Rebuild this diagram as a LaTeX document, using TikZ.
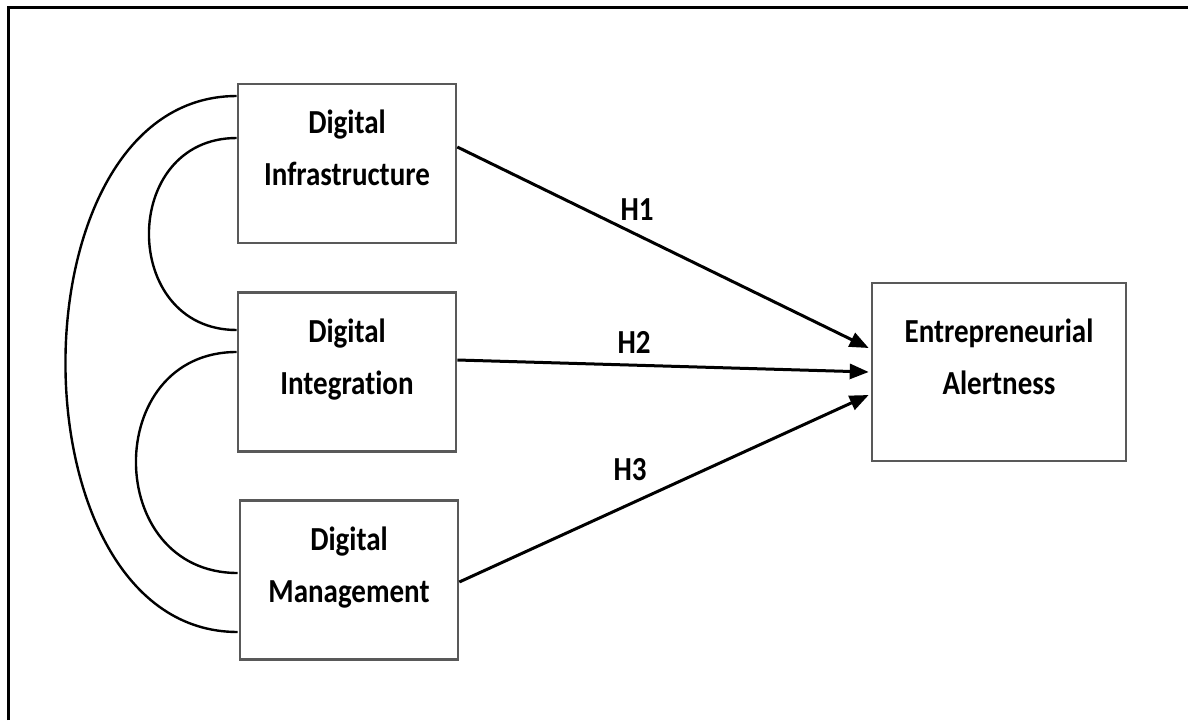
\documentclass[tikz,border=0pt]{standalone}
\usepackage{fontspec}
\setmainfont{Carlito}[Ligatures=NoCommon]
\usetikzlibrary{arrows.meta,calc}
\newcommand{\tall}[1]{\scalebox{1}[1.16]{#1}}

\begin{document}
\begin{tikzpicture}[
    x=1pt, y=-1pt,
    box/.style={draw=black!65, line width=2.6pt, minimum width=218pt, minimum height=159pt, inner sep=0pt},
    boxtext/.style={font=\fontsize{29}{52}\selectfont\bfseries, align=center, inner sep=0pt},
    hyp/.style={font=\fontsize{29}{34}\selectfont\bfseries, inner sep=0pt, anchor=base},
    path/.style={line width=3pt, -{Triangle[length=19pt,width=15pt]}},
    corr/.style={line width=2.4pt},
  ]
  \useasboundingbox (0,0) rectangle (1188,720);

  % frame lines
  \coordinate (fr-tl) at (8,7);
  \coordinate (fr-tr) at (1188,7);
  \coordinate (fr-bl) at (8,720);
  \draw[line width=3pt] (fr-bl) -- (fr-tl) -- (fr-tr);

  % construct boxes
  \node[box] (inf) at (347,163.5) {};
  \node[box] (int) at (347,372) {};
  \node[box] (mgt) at (349,580) {};
  \node[box, minimum width=254pt, minimum height=178pt] (ea) at (999,372) {};

  \node[boxtext] (inf-t) at ($(inf)+(0,-14)$) {\strut\tall{Digital}\\\strut\tall{Infrastructure}};
  \node[boxtext] (int-t) at ($(int)+(0,-14)$) {\strut\tall{Digital}\\\strut\tall{Integration}};
  \node[boxtext] (mgt-t) at ($(mgt)+(0,-14)$) {\strut\tall{Digital}\\\strut\tall{Management}};
  \node[boxtext] (ea-t) at ($(ea)+(0,-14)$) {\strut\tall{Entrepreneurial}\\\strut\tall{Alertness}};

  % hypothesised paths
  \draw[path] ($(inf.east)+(0,-16.5)$) -- ($(ea.west)+(-2,-24)$);
  \draw[path] ($(int.east)+(0,-12)$) -- ($(ea.west)+(-2,0)$);
  \draw[path] ($(mgt.east)+(0,2)$) -- ($(ea.west)+(-2,23)$);

  \node[hyp] (h1) at (637,220) {\tall{H1}};
  \node[hyp] (h2) at (634,353) {\tall{H2}};
  \node[hyp] (h3) at (630,480) {\tall{H3}};

  % correlations between the digital constructs
  \coordinate (a1) at ($(inf.west)+(0,-25.5)$);
  \coordinate (a2) at ($(int.west)+(0,-42)$);
  \coordinate (b1) at ($(int.west)+(0,-20)$);
  \coordinate (b2) at ($(mgt.west)+(-1,-7)$);
  \coordinate (c1) at ($(inf.west)+(0,-67.5)$);
  \coordinate (c2) at ($(mgt.west)+(-1,52)$);
  \draw[corr] (a1) .. controls +(-117,0) and +(-117,0) .. (a2);
  \draw[corr] (b1) .. controls +(-135,0) and +(-135,0) .. (b2);
  \draw[corr] (c1) .. controls +(-229,0) and +(-229,0) .. (c2);
\end{tikzpicture}
\end{document}
